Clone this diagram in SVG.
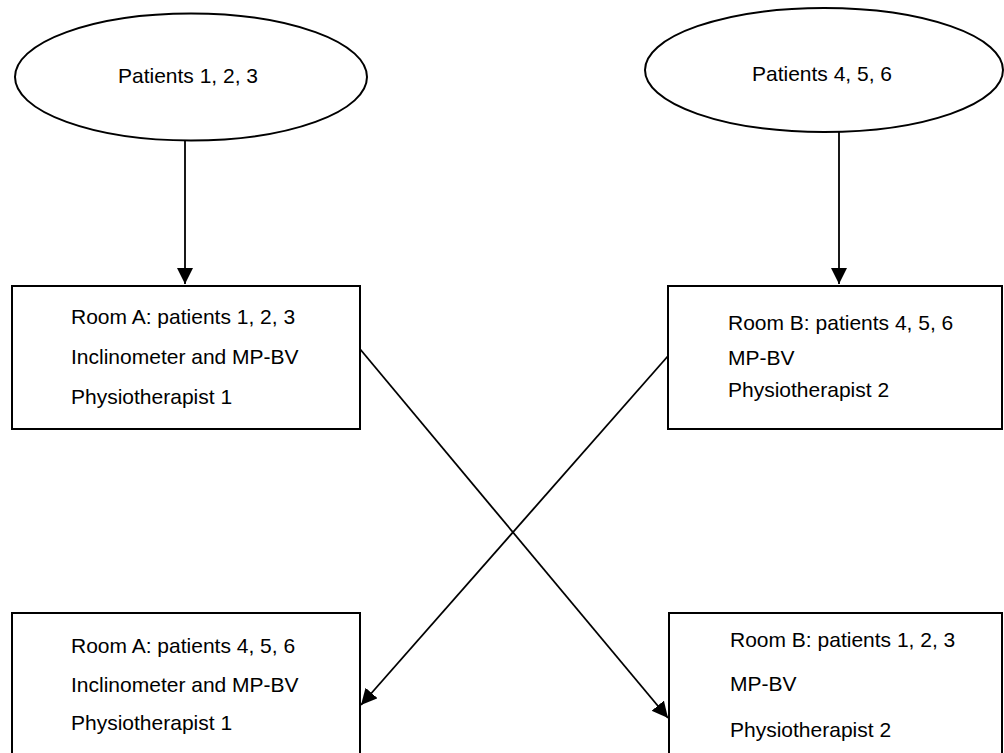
<svg xmlns="http://www.w3.org/2000/svg" width="1004" height="753" viewBox="0 0 1004 753">
  <style>
    .shape { fill: #ffffff; stroke: #000000; stroke-width: 2; }
    .conn { stroke: #000000; stroke-width: 1.8; fill: none; marker-end: url(#arrow); }
    .lbl { font-family: "Liberation Sans", Arial, sans-serif; font-size: 21px; fill: #000000; }
  </style>
  <defs>
    <marker id="arrow" markerUnits="userSpaceOnUse" markerWidth="18" markerHeight="18" refX="16" refY="8" orient="auto">
      <path d="M0,0 L16,8 L0,16 z" fill="#000000"/>
    </marker>
  </defs>
  <rect width="1004" height="753" fill="#ffffff"/>

  <g id="connectors">
    <line class="conn" x1="185" y1="140" x2="185" y2="284"/>
    <line class="conn" x1="839" y1="132" x2="839" y2="284"/>
    <line class="conn" x1="360" y1="349" x2="668" y2="718"/>
    <line class="conn" x1="668" y1="356" x2="361" y2="705"/>
  </g>

  <g id="patients123">
    <ellipse class="shape" cx="191" cy="77" rx="176" ry="63.5"/>
    <text class="lbl" x="188" y="83" text-anchor="middle">Patients 1, 2, 3</text>
  </g>

  <g id="patients456">
    <ellipse class="shape" cx="824" cy="70" rx="179" ry="62"/>
    <text class="lbl" x="822" y="81" text-anchor="middle">Patients 4, 5, 6</text>
  </g>

  <g id="roomA1">
    <rect class="shape" x="12" y="286" width="348" height="143"/>
    <text class="lbl" x="71" y="324">Room A: patients 1, 2, 3</text>
    <text class="lbl" x="71" y="364">Inclinometer and MP-BV</text>
    <text class="lbl" x="71" y="404">Physiotherapist 1</text>
  </g>

  <g id="roomB1">
    <rect class="shape" x="668" y="286" width="334" height="143"/>
    <text class="lbl" x="728" y="330">Room B: patients 4, 5, 6</text>
    <text class="lbl" x="728" y="365">MP-BV</text>
    <text class="lbl" x="728" y="397">Physiotherapist 2</text>
  </g>

  <g id="roomA2">
    <rect class="shape" x="12" y="613" width="348" height="150"/>
    <text class="lbl" x="71" y="653">Room A: patients 4, 5, 6</text>
    <text class="lbl" x="71" y="692">Inclinometer and MP-BV</text>
    <text class="lbl" x="71" y="730">Physiotherapist 1</text>
  </g>

  <g id="roomB2">
    <rect class="shape" x="669" y="613" width="333" height="150"/>
    <text class="lbl" x="730" y="647">Room B: patients 1, 2, 3</text>
    <text class="lbl" x="730" y="691">MP-BV</text>
    <text class="lbl" x="730" y="737">Physiotherapist 2</text>
  </g>
</svg>
